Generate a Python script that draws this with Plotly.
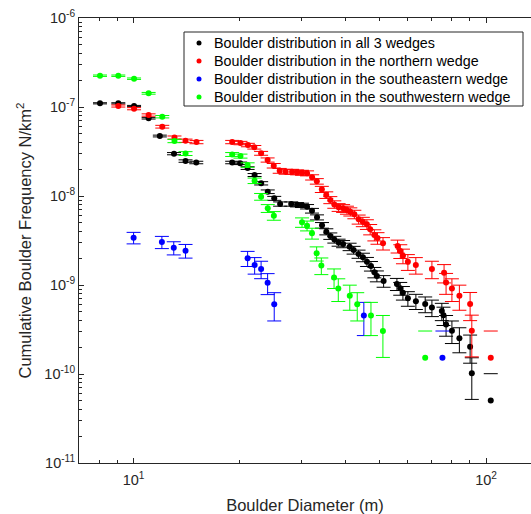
import numpy as np
import plotly.graph_objects as go

# ---------------- data ----------------
# Boulder distribution in all 3 wedges (black)
diam_all = [8.03, 9.05, 10.03, 11.03, 11.87, 13.02, 14.04, 15.06, 19.04, 20.06,
            21.06, 22.04, 23.01, 24.02, 25.06, 26.04, 28.0, 29.09, 30.05, 31.05,
            32.07, 33.14, 34.24, 35.22, 36.15, 37.11, 38.16, 39.3, 41.0, 42.09,
            43.47, 44.74, 45.92, 47.14, 48.2, 49.0, 51.2, 55.85, 57.07, 58.08,
            60.0, 63.22, 67.18, 70.2, 74.9, 75.7, 77.0, 80.0, 84.0, 90.1,
            91.1, 103.1]
freq_all = [1.10e-7, 1.10e-7, 1.026e-7, 7.46e-8, 4.72e-8, 2.99e-8, 2.47e-8, 2.38e-8, 2.38e-8, 2.33e-8,
            2.06e-8, 1.722e-8, 1.389e-8, 1.117e-8, 9.42e-9, 8.13e-9, 8.13e-9, 7.98e-9, 7.86e-9, 7.58e-9,
            6.84e-9, 5.76e-9, 4.69e-9, 3.97e-9, 3.55e-9, 3.24e-9, 3.00e-9, 2.89e-9, 2.69e-9, 2.47e-9,
            2.23e-9, 2.05e-9, 1.827e-9, 1.635e-9, 1.389e-9, 1.262e-9, 1.109e-9, 1.026e-9, 9.18e-10, 8.19e-10,
            7.09e-10, 6.58e-10, 6.11e-10, 5.59e-10, 5.10e-10, 4.57e-10, 3.60e-10, 3.07e-10, 2.52e-10, 2.03e-10,
            1.02e-10, 5.04e-11]

# Boulder distribution in the northern wedge (red)
diam_n = [9.05, 10.03, 11.03, 12.06, 13.06, 14.04, 15.08, 19.04, 20.1, 21.1,
          22.0, 23.0, 24.0, 24.98, 25.97, 27.0, 28.16, 29.1, 30.05, 31.05,
          32.1, 33.1, 34.2, 35.2, 36.15, 37.1, 38.16, 39.3, 40.3, 41.2,
          42.3, 43.5, 44.7, 45.9, 46.9, 48.2, 49.2, 51.0, 56.1, 57.1,
          58.1, 60.0, 63.2, 70.2, 76.0, 77.0, 80.0, 84.0, 90.1, 91.1,
          103.1]
freq_n = [1.026e-7, 9.57e-8, 8.13e-8, 6.01e-8, 4.54e-8, 4.18e-8, 4.04e-8, 4.04e-8, 3.94e-8, 3.74e-8,
          3.53e-8, 3.02e-8, 2.54e-8, 2.19e-8, 1.92e-8, 1.875e-8, 1.875e-8, 1.846e-8, 1.827e-8, 1.80e-8,
          1.622e-8, 1.463e-8, 1.189e-8, 1.026e-8, 9.02e-9, 8.05e-9, 7.46e-9, 7.27e-9, 6.96e-9, 6.66e-9,
          6.23e-9, 5.47e-9, 5.14e-9, 4.81e-9, 4.22e-9, 3.65e-9, 3.37e-9, 2.94e-9, 2.74e-9, 2.41e-9,
          2.13e-9, 1.827e-9, 1.678e-9, 1.513e-9, 1.375e-9, 1.067e-9, 9.13e-10, 7.58e-10, 6.11e-10, 3.07e-10,
          1.52e-10]

# Boulder distribution in the southeastern wedge (blue)
diam_se = [10.0, 12.03, 13.0, 14.04, 21.06, 22.05, 23.0, 24.0, 25.06, 45.0, 75.2]
freq_se = [3.40e-9, 3.04e-9, 2.62e-9, 2.43e-9, 2.00e-9, 1.678e-9, 1.513e-9, 1.061e-9,
           6.07e-10, 4.54e-10, 1.52e-10]

# Boulder distribution in the southwestern wedge (green)
diam_sw = [8.03, 9.05, 10.03, 11.03, 12.06, 13.06, 14.04, 19.04, 20.1, 21.06,
           22.04, 23.0, 24.02, 25.0, 30.05, 31.05, 32.07, 33.06, 34.09, 37.04,
           38.08, 41.05, 43.1, 47.14, 50.97, 67.18]
freq_sw = [2.247e-7, 2.247e-7, 2.080e-7, 1.425e-7, 7.78e-8, 4.15e-8, 3.00e-8, 2.93e-8, 2.81e-8, 2.23e-8,
           1.485e-8, 9.82e-9, 7.27e-9, 6.01e-9, 5.06e-9, 4.64e-9, 3.81e-9, 2.27e-9, 1.66e-9, 1.214e-9,
           9.13e-10, 7.58e-10, 6.07e-10, 4.54e-10, 3.04e-10, 1.52e-10]

# frequency of a single boulder (lowest level of each curve)
unit_all = 5.04e-11
unit_wedge = 1.52e-10
err_scale = 0.7   # error bar size relative to sqrt(N) counting error

series_names = ["Boulder distribution in all 3 wedges",
                "Boulder distribution in the northern wedge",
                "Boulder distribution in the southeastern wedge",
                "Boulder distribution in the southwestern wedge"]
series_colors = ["#000000", "#ff0000", "#0000ff", "#00ff00"]
series = list(zip(series_names,
                  [diam_all, diam_n, diam_se, diam_sw],
                  [freq_all, freq_n, freq_se, freq_sw],
                  [unit_all, unit_wedge, unit_wedge, unit_wedge],
                  series_colors))

x_ticks = [10, 100]
x_ticktext = ["10<sup>1</sup>", "10<sup>2</sup>"]
y_ticks = [1e-11, 1e-10, 1e-9, 1e-8, 1e-7, 1e-6]
y_ticktext = ["10<sup>-11</sup>", "10<sup>-10</sup>", "10<sup>-9</sup>",
              "10<sup>-8</sup>", "10<sup>-7</sup>", "10<sup>-6</sup>"]

# ---------------- figure ----------------
FONT = "Liberation Sans, Arial, Helvetica, sans-serif"
AXC = "#262626"
W, H = 531, 514
ML, MR, MT, MB = 79, 0, 18, 51
PW, PH = W - ML - MR, H - MT - MB


def px_x(px):
    return (px - ML) / PW


def px_y(py):
    return 1 - (py - MT) / PH


fig = go.Figure()
for name, d, f, unit, col in series:
    d = np.array(d)
    f = np.array(f)
    single = f < 1.5 * unit
    multi = ~single
    err = err_scale * np.sqrt(f[multi] * unit)
    fig.add_trace(go.Scatter(
        x=d[multi], y=f[multi], mode="markers", name=name,
        marker=dict(color=col, size=6),
        error_y=dict(type="data", array=err, symmetric=True, color=col,
                     thickness=1, width=7),
        showlegend=False))
    # single-boulder points: lower bar reaches zero, only the upper cap shows
    fig.add_trace(go.Scatter(
        x=d[single], y=f[single], mode="markers", name=name,
        marker=dict(color=col, size=6), showlegend=False))
    fig.add_trace(go.Scatter(
        x=d[single], y=2 * f[single], mode="markers", name=name,
        marker=dict(symbol="line-ew", size=10, color=col,
                    line=dict(color=col, width=1)),
        showlegend=False, hoverinfo="skip"))

# legend box (drawn as in the reference: compact rows)
shapes = [dict(type="rect", xref="paper", yref="paper",
               x0=px_x(184), x1=px_x(523), y0=px_y(106), y1=px_y(32),
               fillcolor="white", line=dict(color=AXC, width=1), layer="above")]
annotations = []
for i, (name, col) in enumerate(zip(series_names, series_colors)):
    cy = 43 + 18 * i
    shapes.append(dict(type="circle", xref="paper", yref="paper",
                       x0=px_x(196.5), x1=px_x(201.5), y0=px_y(cy + 2.5), y1=px_y(cy - 2.5),
                       fillcolor=col, line=dict(color=col, width=0), layer="above"))
    annotations.append(dict(text=name, xref="paper", yref="paper",
                            x=px_x(212), y=px_y(cy), xanchor="left", yanchor="middle",
                            showarrow=False, font=dict(family=FONT, size=14.3, color="#000000")))

minor_x = [8, 9] + [k * 10 for k in range(2, 10)]
minor_y = [k * 10.0 ** e for e in range(-11, -6) for k in range(2, 10)]

fig.update_layout(
    width=W, height=H,
    margin=dict(l=ML, r=MR, t=MT, b=MB),
    paper_bgcolor="white", plot_bgcolor="white",
    font=dict(family=FONT, color=AXC, size=14),
    showlegend=False,
    shapes=shapes, annotations=annotations,
    xaxis=dict(
        type="log", range=[np.log10(7), np.log10(134.1)],
        tickmode="array", tickvals=x_ticks, ticktext=x_ticktext,
        ticks="inside", ticklen=5, tickcolor=AXC, tickwidth=1,
        minor=dict(tickmode="array", tickvals=minor_x, ticks="inside",
                   ticklen=3, tickcolor=AXC, tickwidth=1),
        showline=True, linecolor=AXC, linewidth=1, mirror="ticks",
        showgrid=False, zeroline=False, ticklabelstandoff=4,
        tickfont=dict(size=14.5, color=AXC),
        title=dict(text="Boulder Diameter (m)", font=dict(size=16.5, color=AXC),
                   standoff=12),
    ),
    yaxis=dict(
        type="log", range=[-11, -6],
        tickmode="array", tickvals=y_ticks, ticktext=y_ticktext,
        ticks="inside", ticklen=5, tickcolor=AXC, tickwidth=1,
        minor=dict(tickmode="array", tickvals=minor_y, ticks="inside",
                   ticklen=3, tickcolor=AXC, tickwidth=1),
        showline=True, linecolor=AXC, linewidth=1, mirror=False,
        showgrid=False, zeroline=False,
        tickfont=dict(size=14.5, color=AXC),
        title=dict(text="Cumulative Boulder Frequency N/km<sup>2</sup>",
                   font=dict(size=16.5, color=AXC), standoff=8),
    ),
)

fig.write_html("out.html", config={"displayModeBar": False},
               post_script="document.body.style.margin='0px';")
